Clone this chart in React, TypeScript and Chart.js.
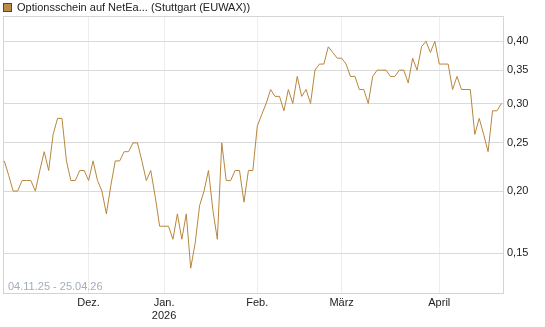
import React, { useEffect, useRef } from 'react';
import { Chart, registerables } from 'chart.js';

Chart.register(...registerables);

const TITLE = 'Optionsschein auf NetEa... (Stuttgart (EUWAX))';
const RANGE = '04.11.25 - 25.04.26';

// one value per trading day, 04.11.25 .. 24.04.26
const prices = [
  0.23, 0.215, 0.20, 0.20, 0.21, 0.21, 0.21, 0.20, 0.22, 0.24,
  0.22, 0.26, 0.28, 0.28, 0.23, 0.21, 0.21, 0.22, 0.22, 0.21,
  0.23, 0.21, 0.20, 0.18, 0.205, 0.23, 0.23, 0.24, 0.24, 0.25,
  0.25, 0.23, 0.21, 0.22, 0.195, 0.17, 0.17, 0.17, 0.16, 0.18,
  0.16, 0.18, 0.14, 0.157, 0.187, 0.20, 0.22, 0.183, 0.16, 0.25,
  0.21, 0.21, 0.22, 0.22, 0.19, 0.22, 0.22, 0.27, 0.285, 0.30,
  0.32, 0.31, 0.31, 0.29, 0.32, 0.30, 0.34, 0.31, 0.32, 0.30,
  0.35, 0.36, 0.36, 0.39, 0.38, 0.37, 0.37, 0.36, 0.34, 0.34,
  0.32, 0.32, 0.30, 0.34, 0.35, 0.35, 0.35, 0.34, 0.34, 0.35,
  0.35, 0.33, 0.37, 0.35, 0.39, 0.40, 0.38, 0.40, 0.36, 0.36,
  0.36, 0.32, 0.34, 0.32, 0.32, 0.32, 0.26, 0.28, 0.26, 0.24,
  0.29, 0.29, 0.30,
];

// trading-day index of each month start
const monthTickIdx = [19, 36, 57, 76, 98];
const monthLabels: (string | string[])[] = ['Dez.', ['Jan.', '2026'], 'Feb.', 'März', 'April'];
const yTicks = [0.15, 0.2, 0.25, 0.3, 0.35, 0.4];

const LINE_COLOR = '#b8863c';
const FONT = '"Liberation Sans", Arial, sans-serif';

const decor = {
  id: 'decor',
  beforeDatasetsDraw(chart: any) {
    const { ctx, chartArea: a } = chart;
    ctx.save();
    ctx.strokeStyle = '#d4d4d4';
    ctx.lineWidth = 1;
    ctx.strokeRect(Math.round(a.left) + 0.5, Math.round(a.top) + 0.5, Math.round(a.right - a.left), Math.round(a.bottom - a.top));
    ctx.restore();
  },
  afterDraw(chart: any) {
    const { ctx, chartArea: a } = chart;
    ctx.save();
    // legend box + title
    ctx.fillStyle = '#b98b4c';
    ctx.fillRect(3, 3, 9, 9);
    ctx.strokeStyle = '#5e4525';
    ctx.lineWidth = 1;
    ctx.strokeRect(3.5, 3.5, 8, 8);
    ctx.font = `11px ${FONT}`;
    ctx.fillStyle = '#222';
    ctx.textBaseline = 'middle';
    ctx.textAlign = 'left';
    ctx.fillText(TITLE, 17, 8);
    // range text
    ctx.fillStyle = '#a3abbd';
    ctx.fillText(RANGE, a.left + 5, a.bottom - 6);
    ctx.restore();
  },
};

export default function App() {
  const ref = useRef<HTMLCanvasElement | null>(null);

  useEffect(() => {
    if (!ref.current) return;
    const chart = new Chart(ref.current, {
      type: 'line',
      data: {
        datasets: [
          {
            data: prices.map((v, i) => ({ x: i, y: v })),
            borderColor: LINE_COLOR,
            borderWidth: 1,
            pointRadius: 0,
            tension: 0,
            fill: false,
          },
        ],
      },
      options: {
        animation: false,
        responsive: false,
        devicePixelRatio: 1,
        layout: { padding: { left: 3, top: 16, right: 0, bottom: 0 } },
        plugins: { legend: { display: false }, tooltip: { enabled: false }, title: { display: false } },
        scales: {
          x: {
            type: 'linear',
            min: -0.29,
            max: 112.36,
            afterBuildTicks: (s: any) => {
              s.ticks = monthTickIdx.map((v) => ({ value: v }));
            },
            afterFit: (s: any) => {
              s.height = 34;
            },
            ticks: {
              autoSkip: false,
              maxRotation: 0,
              padding: 3,
              color: '#222',
              font: { family: FONT, size: 11 },
              callback: (_v: any, i: number) => monthLabels[i],
            },
            grid: { color: '#eeeeee', drawTicks: false },
            border: { display: false },
          },
          y: {
            type: 'logarithmic',
            position: 'right',
            min: 0.1248,
            max: 0.4497,
            afterBuildTicks: (s: any) => {
              s.ticks = yTicks.map((v) => ({ value: v }));
            },
            afterFit: (s: any) => {
              s.width = 42;
            },
            ticks: {
              padding: 4,
              color: '#222',
              font: { family: FONT, size: 11 },
              callback: (v: any) => Number(v).toFixed(2).replace('.', ','),
            },
            grid: { color: '#d9d9d9', drawTicks: false },
            border: { display: false },
          },
        },
      } as any,
      plugins: [decor],
    });
    return () => chart.destroy();
  }, []);

  return (
    <div style={{ position: 'fixed', left: 0, top: 0, width: 545, height: 327, background: '#fff' }}>
      <canvas ref={ref} width={545} height={327} style={{ display: 'block', width: 545, height: 327 }} />
    </div>
  );
}
